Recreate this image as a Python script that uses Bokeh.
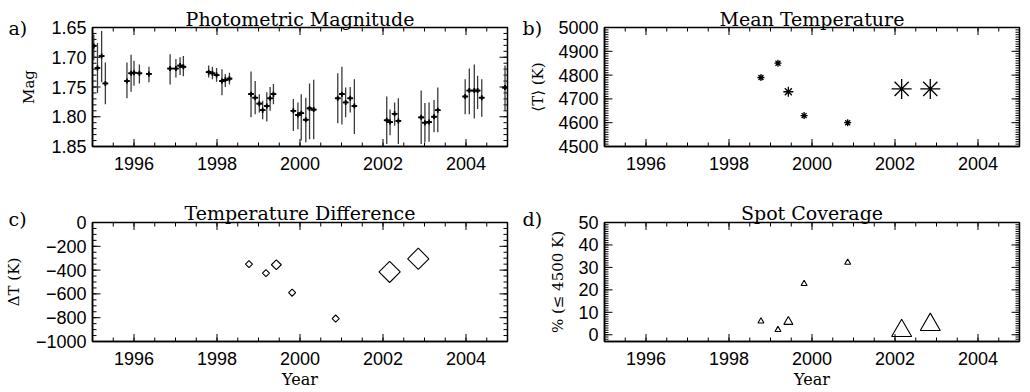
import numpy as np
from bokeh.plotting import figure
from bokeh.layouts import GridBox, column, row
from bokeh.models import (Range1d, FixedTicker, Label, ColumnDataSource,
                          CustomJSTickFormatter)
from bokeh.embed import file_html
from bokeh.resources import INLINE

# ---------------- data ----------------
phot_year = [1995.03, 1995.12, 1995.22, 1995.31,
             1995.83, 1995.93, 1996.00, 1996.13, 1996.36,
             1996.87, 1997.01, 1997.11, 1997.19,
             1997.80, 1997.89, 1997.99, 1998.12, 1998.20, 1998.30,
             1998.82, 1998.92, 1999.02, 1999.10, 1999.20, 1999.28, 1999.36,
             1999.84, 1999.95, 2000.03, 2000.14, 2000.23, 2000.33,
             2000.91, 2001.01, 2001.10, 2001.21, 2001.31,
             2002.09, 2002.17, 2002.28, 2002.37,
             2002.92, 2003.01, 2003.11, 2003.23, 2003.32,
             2003.98, 2004.08, 2004.20, 2004.28, 2004.38,
             2004.94]
phot_mag = [1.681, 1.718, 1.698, 1.744,
            1.740, 1.727, 1.726, 1.727, 1.728,
            1.719, 1.719, 1.714, 1.716,
            1.725, 1.727, 1.730, 1.740, 1.738, 1.736,
            1.762, 1.768, 1.778, 1.789, 1.782, 1.769, 1.762,
            1.790, 1.797, 1.794, 1.805, 1.786, 1.788,
            1.769, 1.762, 1.776, 1.769, 1.782,
            1.806, 1.809, 1.795, 1.807,
            1.801, 1.810, 1.809, 1.800, 1.789,
            1.766, 1.756, 1.756, 1.756, 1.768,
            1.751]
phot_lo = [1.662, 1.676, 1.656, 1.709,
           1.709, 1.696, 1.706, 1.712, 1.716,
           1.695, 1.703, 1.700, 1.698,
           1.714, 1.716, 1.718, 1.720, 1.728, 1.726,
           1.724, 1.740, 1.762, 1.773, 1.759, 1.750, 1.745,
           1.770, 1.776, 1.762, 1.768, 1.744, 1.738,
           1.727, 1.716, 1.751, 1.750, 1.737,
           1.766, 1.788, 1.776, 1.769,
           1.756, 1.777, 1.776, 1.772, 1.751,
           1.737, 1.719, 1.712, 1.731, 1.737,
           1.714]
phot_hi = [1.705, 1.760, 1.742, 1.779,
           1.769, 1.758, 1.748, 1.744, 1.742,
           1.746, 1.734, 1.730, 1.732,
           1.734, 1.737, 1.741, 1.764, 1.750, 1.746,
           1.801, 1.796, 1.793, 1.804, 1.808, 1.790, 1.779,
           1.824, 1.821, 1.840, 1.843, 1.838, 1.838,
           1.811, 1.813, 1.801, 1.793, 1.829,
           1.846, 1.831, 1.815, 1.846,
           1.846, 1.843, 1.842, 1.826, 1.826,
           1.796, 1.796, 1.803, 1.787, 1.800,
           1.790]

epoch_year = [1998.77, 1999.18, 1999.43, 1999.81, 2000.86, 2002.16, 2002.85]
epoch_kind = ["single", "single", "double", "single", "single", "combined", "combined"]
mean_temp = [4790, 4850, 4730, 4630, 4600, 4742, 4742]
delta_temp = [-350, -425, -355, -590, -807, -415, -305]
spot_cov = [6.0, 2.2, 5.8, 22.7, 32.2, 1.8, 4.5]

titles = ["Photometric Magnitude", "Mean Temperature",
          "Temperature Difference", "Spot Coverage"]
panel_tags = ["a)", "b)", "c)", "d)"]
y_titles = ["Mag", "\u27e8T\u27e9 (K)", "\u0394T (K)", "% (\u2264 4500 K)"]
x_title = "Year"

x_ticks = [1996, 1998, 2000, 2002, 2004]
x_tick_labels = ["1996", "1998", "2000", "2002", "2004"]
a_ticks = [1.65, 1.70, 1.75, 1.80, 1.85]
a_tick_labels = ["1.65", "1.70", "1.75", "1.80", "1.85"]
b_ticks = [4500, 4600, 4700, 4800, 4900, 5000]
b_tick_labels = ["4500", "4600", "4700", "4800", "4900", "5000"]
c_ticks = [0, -200, -400, -600, -800, -1000]
c_tick_labels = ["0", "\u2212200", "\u2212400", "\u2212600", "\u2212800", "\u22121000"]
d_ticks = [0, 10, 20, 30, 40, 50]
d_tick_labels = ["0", "10", "20", "30", "40", "50"]

# ---------------- style ----------------
SERIF = "DejaVu Serif"
SANS = "Liberation Sans"
W_TOTAL, H_TOTAL = 1030, 392
size_map = {
    "asterisk": {"single": 7, "double": 10, "combined": 20},
    "square": {"single": 5, "double": 7, "combined": 15},
    "triangle": {"single": 6, "double": 9, "combined": 20},
}
MAJOR_LEN, MINOR_LEN = 7.5, 4.0
# text placement of titles / panel tags on the page (pixels)
title_pos = [(299.5, 18), (811.5, 18), (299.5, 212), (811.5, 212)]
tag_pos = [(8, 27.5), (522, 27.5), (8, 218.5), (522, 218.5)]


def label_formatter(tvals, tlabels):
    return CustomJSTickFormatter(
        args=dict(tvals=tvals, tlabels=tlabels),
        code="""
        for (let i = 0; i < tvals.length; i++) {
            if (Math.abs(tvals[i] - tick) < 1e-6) { return tlabels[i]; }
        }
        return '';
        """)


def style_axis(ax):
    ax.axis_line_color = "black"
    ax.axis_line_width = 1.5
    ax.major_tick_in = 0
    ax.major_tick_out = 0
    ax.minor_tick_in = 0
    ax.minor_tick_out = 0
    ax.major_tick_line_color = None
    ax.minor_tick_line_color = None
    ax.major_label_text_font = SANS
    ax.major_label_text_font_size = "18px"
    ax.major_label_text_color = "black"
    ax.axis_label_text_font = SERIF
    ax.axis_label_text_font_style = "normal"
    ax.axis_label_text_font_size = "15px"
    ax.axis_label_text_color = "black"


def draw_ticks(p, xr, yr, fw, fh, xmaj, xmin, ymaj, ymin):
    """Inward tick marks on all four sides of the frame."""
    dx = (xr.end - xr.start) / fw      # data units per pixel
    dy = (yr.end - yr.start) / fh
    x0s, x1s, y0s, y1s = [], [], [], []
    for vals, ln in ((xmaj, MAJOR_LEN), (xmin, MINOR_LEN)):
        for v in vals:
            x0s += [v, v]; x1s += [v, v]
            y0s += [yr.start, yr.end]
            y1s += [yr.start + ln * dy, yr.end - ln * dy]
    for vals, ln in ((ymaj, MAJOR_LEN + 0.5), (ymin, MINOR_LEN)):
        for v in vals:
            y0s += [v, v]; y1s += [v, v]
            x0s += [xr.start, xr.end]
            x1s += [xr.start + ln * dx, xr.end - ln * dx]
    p.segment(x0=x0s, y0=y0s, x1=x1s, y1=y1s, line_color="black",
              line_width=1)


def make_panel(idx, yr, yticks, yminor, ylabels, height, border_left,
               border_right, border_top, border_bottom, ylab_standoff,
               with_year=False):
    xr = Range1d(1995, 2005)
    p = figure(width=515, height=height, x_range=xr, y_range=yr,
               output_backend="svg", toolbar_location=None,
               min_border_left=border_left, min_border_right=border_right,
               min_border_top=border_top, min_border_bottom=border_bottom)
    p.grid.visible = False
    p.outline_line_color = "black"
    p.outline_line_width = 1.5
    p.background_fill_color = None
    p.border_fill_color = None

    x_minor = list(np.arange(1995.0, 2005.01, 0.5))
    p.xaxis.ticker = FixedTicker(ticks=x_ticks, minor_ticks=x_minor)
    p.xaxis.formatter = label_formatter(x_ticks, x_tick_labels)
    p.yaxis.ticker = FixedTicker(ticks=yticks, minor_ticks=yminor)
    p.yaxis.formatter = label_formatter(yticks, ylabels)
    for ax in p.xaxis:
        style_axis(ax)
        ax.major_label_standoff = 10
        if with_year:
            ax.axis_label = x_title
            ax.axis_label_standoff = 2
            ax.axis_label_text_font_size = "16px"
    for ax in p.yaxis:
        style_axis(ax)
        ax.major_label_standoff = 6
        ax.axis_label = y_titles[idx]
        ax.axis_label_standoff = ylab_standoff

    fw = 515 - border_left - border_right
    fh = height - border_top - border_bottom
    draw_ticks(p, xr, yr, fw, fh, x_ticks, x_minor, yticks, yminor)
    return p


# a) photometry
pa = make_panel(0, Range1d(1.85, 1.65), a_ticks,
                list(np.arange(1.65, 1.8501, 0.01)), a_tick_labels,
                190, 92, 8, 27, 44, 10)
yrs = np.array(phot_year)
src_a = ColumnDataSource(dict(x=yrs, y=phot_mag, lo=phot_lo, hi=phot_hi,
                              x0=yrs - 0.07, x1=yrs + 0.07))
pa.segment(x0="x", y0="lo", x1="x", y1="hi", source=src_a,
           line_color="#3a3a3a", line_width=1.3)
pa.segment(x0="x0", y0="y", x1="x1", y1="y", source=src_a,
           line_color="black", line_width=1.6)
pa.scatter(x="x", y="y", source=src_a, marker="cross", size=5,
           line_color="black", line_width=1.8)

# b) mean temperature
pb = make_panel(1, Range1d(4500, 5000), b_ticks,
                list(np.arange(4500, 5001, 10)), b_tick_labels,
                190, 89, 11, 27, 44, 8)
src_b = ColumnDataSource(dict(x=epoch_year, y=mean_temp,
                              s=[size_map["asterisk"][k] for k in epoch_kind]))
pb.scatter(x="x", y="y", size="s", source=src_b, marker="asterisk",
           line_color="black", line_width=1.3)

# c) temperature difference
pc = make_panel(2, Range1d(-1000, 0), c_ticks,
                list(np.arange(-1000, 1, 50)), c_tick_labels,
                202, 92, 8, 32, 51, 10, with_year=True)
src_c = ColumnDataSource(dict(x=epoch_year, y=delta_temp,
                              s=[size_map["square"][k] for k in epoch_kind]))
pc.scatter(x="x", y="y", size="s", source=src_c, marker="square",
           angle=np.pi / 4, fill_color=None, line_color="black",
           line_width=1.1)

# d) spot coverage
pd = make_panel(3, Range1d(-3, 50), d_ticks,
                list(np.arange(-3, 50.01, 1)), d_tick_labels,
                202, 89, 11, 32, 51, 8, with_year=True)
src_d = ColumnDataSource(dict(x=epoch_year, y=spot_cov,
                              s=[size_map["triangle"][k] for k in epoch_kind]))
pd.scatter(x="x", y="y", size="s", source=src_d, marker="triangle",
           fill_color=None, line_color="black", line_width=1.1)

# transparent page-sized layer carrying the panel titles and tags
ov = figure(width=W_TOTAL, height=H_TOTAL, x_range=Range1d(0, W_TOTAL),
            y_range=Range1d(H_TOTAL, 0), output_backend="svg",
            toolbar_location=None, x_axis_location=None,
            y_axis_location=None, min_border=0, min_border_left=0,
            min_border_right=0, min_border_top=0, min_border_bottom=0)
ov.grid.visible = False
ov.outline_line_color = None
ov.background_fill_color = None
ov.border_fill_color = None
for i in range(4):
    ov.add_layout(Label(x=title_pos[i][0], y=title_pos[i][1], text=titles[i],
                        text_align="center", text_baseline="alphabetic",
                        text_font=SERIF, text_font_size="19px",
                        text_color="black"))
    ov.add_layout(Label(x=tag_pos[i][0], y=tag_pos[i][1], text=panel_tags[i],
                        text_align="left", text_baseline="alphabetic",
                        text_font=SERIF, text_font_size="19px",
                        text_color="black"))

panels = column(row(pa, pb), row(pc, pd))
layout = GridBox(children=[(panels, 0, 0), (ov, 0, 0)])
open("out.html", "w").write(file_html(layout, INLINE))
